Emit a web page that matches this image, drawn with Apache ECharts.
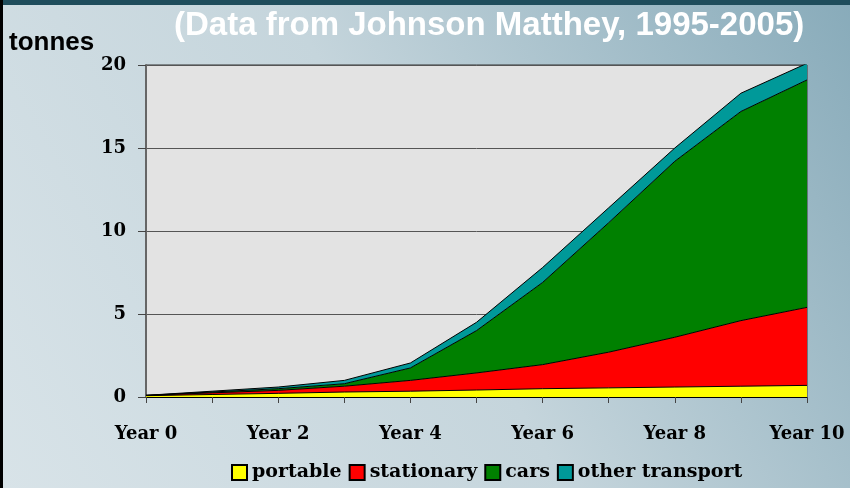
<!DOCTYPE html>
<html>
<head>
<meta charset="utf-8">
<script src="https://cdn.jsdelivr.net/npm/echarts@6/dist/echarts.min.js"></script>
<style>
  html, body { margin: 0; padding: 0; }
  #chart { width: 850px; height: 488px; }
</style>
</head>
<body>
<div id="chart"></div>
<script>
// years along the bottom, only every second one is labelled
const years = ['Year 0', 'Year 1', 'Year 2', 'Year 3', 'Year 4', 'Year 5',
  'Year 6', 'Year 7', 'Year 8', 'Year 9', 'Year 10']

// tonnes per segment (stacked)
const portable = [0.08, 0.15, 0.22, 0.3, 0.35, 0.42, 0.5, 0.55, 0.6, 0.65, 0.7]
const stationary = [0.02, 0.1, 0.18, 0.35, 0.65, 1.03, 1.45, 2.15, 3.0, 3.95, 4.7]
const cars = [0, 0.05, 0.1, 0.15, 0.75, 2.55, 4.95, 7.8, 10.6, 12.6, 13.7]
const otherTransport = [0, 0.05, 0.1, 0.2, 0.3, 0.5, 0.9, 0.9, 0.8, 1.1, 1.0]

const serif = '"DejaVu Serif", "Liberation Serif", serif'

const chart = echarts.init(document.getElementById('chart'))

let area = (name, data, color) => {
  return {
    name: name,
    type: 'line',
    stack: 'total',
    data: data,
    symbol: 'none',
    lineStyle: { color: '#000', width: 1 },
    areaStyle: { color: color, opacity: 1 },
    itemStyle: { color: color, borderColor: '#000', borderWidth: 1 }
  }
}

chart.setOption({
  animation: false,
  backgroundColor: {
    type: 'linear', x: 0, y: 1, x2: 1, y2: 0,
    colorStops: [
      { offset: 0, color: '#d8e3e8' },
      { offset: 0.5, color: '#c5d5dc' },
      { offset: 1, color: '#88abba' }
    ]
  },
  graphic: [
    { type: 'rect', shape: { x: 0, y: 0, width: 850, height: 5 }, style: { fill: '#1f4d5c' } },
    { type: 'rect', shape: { x: 0, y: 0, width: 3, height: 488 }, style: { fill: '#000' } },
    {
      type: 'text', left: 174, top: 9,
      style: {
        text: '(Data from Johnson Matthey, 1995-2005)',
        fill: '#fff',
        font: 'bold 33px "Liberation Sans", Arial, sans-serif',
        shadowColor: 'rgba(0,0,0,0.35)', shadowBlur: 2, shadowOffsetX: 1, shadowOffsetY: 1
      }
    },
    {
      type: 'text', left: 9, top: 30,
      style: { text: 'tonnes', fill: '#000', font: 'bold 26px "Liberation Sans", Arial, sans-serif' }
    }
  ],
  grid: {
    left: 146, right: 43, top: 65, bottom: 91,
    show: true,
    backgroundColor: '#e3e3e3',
    borderColor: '#333',
    borderWidth: 1
  },
  legend: {
    bottom: 1,
    left: 226,
    icon: 'rect',
    itemWidth: 15,
    itemHeight: 15,
    itemGap: 7,
    textStyle: { fontFamily: serif, fontWeight: 'bold', fontSize: 19, color: '#000' },
    data: ['portable', 'stationary', 'cars', 'other transport']
  },
  xAxis: {
    type: 'category',
    data: years,
    boundaryGap: false,
    axisLine: { lineStyle: { color: '#000', width: 1 } },
    axisTick: { show: true, interval: 0, length: 6, lineStyle: { color: '#444' } },
    axisLabel: {
      interval: 1,
      margin: 28,
      color: '#000',
      fontFamily: serif,
      fontWeight: 'bold',
      fontSize: 18
    }
  },
  yAxis: {
    type: 'value',
    min: 0,
    max: 20,
    interval: 5,
    axisLine: { show: true, lineStyle: { color: '#666', width: 2 } },
    axisTick: { show: true, length: 8, lineStyle: { color: '#444' } },
    splitLine: { lineStyle: { color: '#555', width: 1 } },
    axisLabel: {
      margin: 20,
      color: '#000',
      fontFamily: serif,
      fontWeight: 'bold',
      fontSize: 18
    }
  },
  series: [
    area('portable', portable, '#ffff00'),
    area('stationary', stationary, '#ff0000'),
    area('cars', cars, '#008000'),
    area('other transport', otherTransport, '#009999')
  ]
})
</script>
</body>
</html>
